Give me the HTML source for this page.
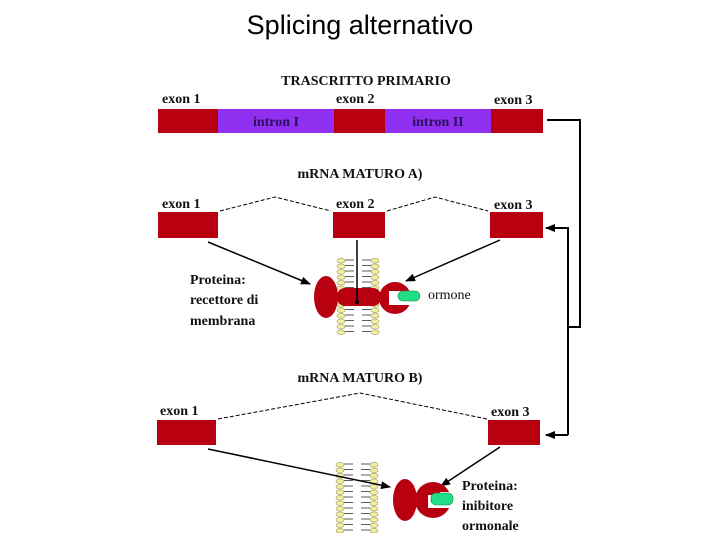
<!DOCTYPE html>
<html><head><meta charset="utf-8"><style>
body{margin:0;background:#fff;width:720px;height:540px;overflow:hidden}
svg{display:block}
.s{font-family:"Liberation Serif",serif;font-weight:bold;font-size:14px;fill:#111}
.l{font-family:"Liberation Serif",serif;font-weight:bold;font-size:14px;fill:#111}
</style></head><body>
<svg width="720" height="540" viewBox="0 0 720 540">
<defs>
<marker id="a" markerWidth="10" markerHeight="8" refX="9" refY="4" orient="auto" markerUnits="userSpaceOnUse"><path d="M0,0 L10,4 L0,8 z" fill="#000"/></marker>
<pattern id="lip" x="0" y="0" width="44" height="5.5" patternUnits="userSpaceOnUse">
<ellipse cx="5" cy="2.75" rx="4" ry="2.3" fill="#f2f0a0" stroke="#999960" stroke-width="0.6"/>
<ellipse cx="39" cy="2.75" rx="4" ry="2.3" fill="#f2f0a0" stroke="#999960" stroke-width="0.6"/>
<line x1="9" y1="2" x2="18" y2="2" stroke="#333" stroke-width="0.8"/>
<line x1="26" y1="2" x2="35" y2="2" stroke="#333" stroke-width="0.8"/>
</pattern>
</defs>
<text x="360" y="34" text-anchor="middle" font-family="Liberation Sans,sans-serif" font-size="27">Splicing alternativo</text>

<text x="366" y="85" text-anchor="middle" class="l" font-size="15">TRASCRITTO PRIMARIO</text>
<text x="162" y="103" class="s">exon 1</text>
<text x="336" y="103" class="s">exon 2</text>
<text x="494" y="104" class="s">exon 3</text>
<rect x="158" y="109" width="60" height="24" fill="#b80010"/>
<rect x="218" y="109" width="116" height="24" fill="#9030f0"/>
<rect x="334" y="109" width="51" height="24" fill="#b80010"/>
<rect x="385" y="109" width="106" height="24" fill="#9030f0"/>
<rect x="491" y="109" width="52" height="24" fill="#b80010"/>
<text x="276" y="126" text-anchor="middle" class="s" style="fill:#2a1060">intron I</text>
<text x="438" y="126" text-anchor="middle" class="s" style="fill:#2a1060">intron II</text>

<path d="M547,120 H580 V327 H568" fill="none" stroke="#000" stroke-width="2"/>
<path d="M568,435 V228 H546" fill="none" stroke="#000" stroke-width="2" marker-end="url(#a)"/>
<path d="M568,435 H546" fill="none" stroke="#000" stroke-width="2" marker-end="url(#a)"/>

<text x="360" y="178" text-anchor="middle" class="l" font-size="15">mRNA MATURO A)</text>
<text x="162" y="208" class="s">exon 1</text>
<text x="336" y="208" class="s">exon 2</text>
<text x="494" y="209" class="s">exon 3</text>
<rect x="158" y="212" width="60" height="26" fill="#b80010"/>
<rect x="333" y="212" width="52" height="26" fill="#b80010"/>
<rect x="490" y="212" width="53" height="26" fill="#b80010"/>
<path d="M220,211 L275,197 L331,211 M387,211 L435,197 L488,211" fill="none" stroke="#000" stroke-dasharray="4,2"/>

<g transform="translate(336,258)"><rect width="44" height="77" fill="url(#lip)"/></g>
<line x1="208" y1="242" x2="310" y2="284" stroke="#000" stroke-width="1.5" marker-end="url(#a)"/>
<line x1="500" y1="240" x2="406" y2="281" stroke="#000" stroke-width="1.5" marker-end="url(#a)"/>
<ellipse cx="326" cy="297" rx="12" ry="21" fill="#b80010"/>
<rect x="337" y="288" width="44" height="18" rx="8" fill="#b80010"/>
<circle cx="395" cy="298" r="16" fill="#b80010"/>
<path d="M389,291 H402 V294 H412 V305 H389 z" fill="#fff"/>
<rect x="398" y="291" width="22" height="10" rx="5" fill="#22dd88" stroke="#118844" stroke-width="0.6"/>
<line x1="357" y1="240" x2="357" y2="302" stroke="#000" stroke-width="1.5"/>
<circle cx="357" cy="302" r="2" fill="#000"/>
<text x="190" y="284" class="s" font-size="15">Proteina:</text>
<text x="190" y="304" class="s" font-size="15">recettore di</text>
<text x="190" y="325" class="s" font-size="15">membrana</text>
<text x="428" y="299" class="s" style="font-weight:normal">ormone</text>

<text x="360" y="382" text-anchor="middle" class="l" font-size="15">mRNA MATURO B)</text>
<text x="160" y="415" class="s">exon 1</text>
<text x="491" y="416" class="s">exon 3</text>
<rect x="157" y="420" width="59" height="25" fill="#b80010"/>
<rect x="488" y="420" width="52" height="25" fill="#b80010"/>
<path d="M218,419 L360,393 L487,419" fill="none" stroke="#000" stroke-dasharray="4,2"/>
<g transform="translate(335,462)"><rect width="44" height="71" fill="url(#lip)"/></g>
<line x1="208" y1="449" x2="390" y2="487" stroke="#000" stroke-width="1.5" marker-end="url(#a)"/>
<line x1="500" y1="447" x2="441" y2="486" stroke="#000" stroke-width="1.5" marker-end="url(#a)"/>
<ellipse cx="405" cy="500" rx="12" ry="21" fill="#b80010"/>
<circle cx="433" cy="500" r="18" fill="#b80010"/>
<path d="M428,495 H440 V492 H454 V508 H428 z" fill="#fff"/>
<rect x="431" y="493" width="22" height="12" rx="5" fill="#22dd88" stroke="#118844" stroke-width="0.6"/>
<text x="462" y="490" class="s" font-size="15">Proteina:</text>
<text x="462" y="510" class="s" font-size="15">inibitore</text>
<text x="462" y="530" class="s" font-size="15">ormonale</text>
</svg>
</body></html>
